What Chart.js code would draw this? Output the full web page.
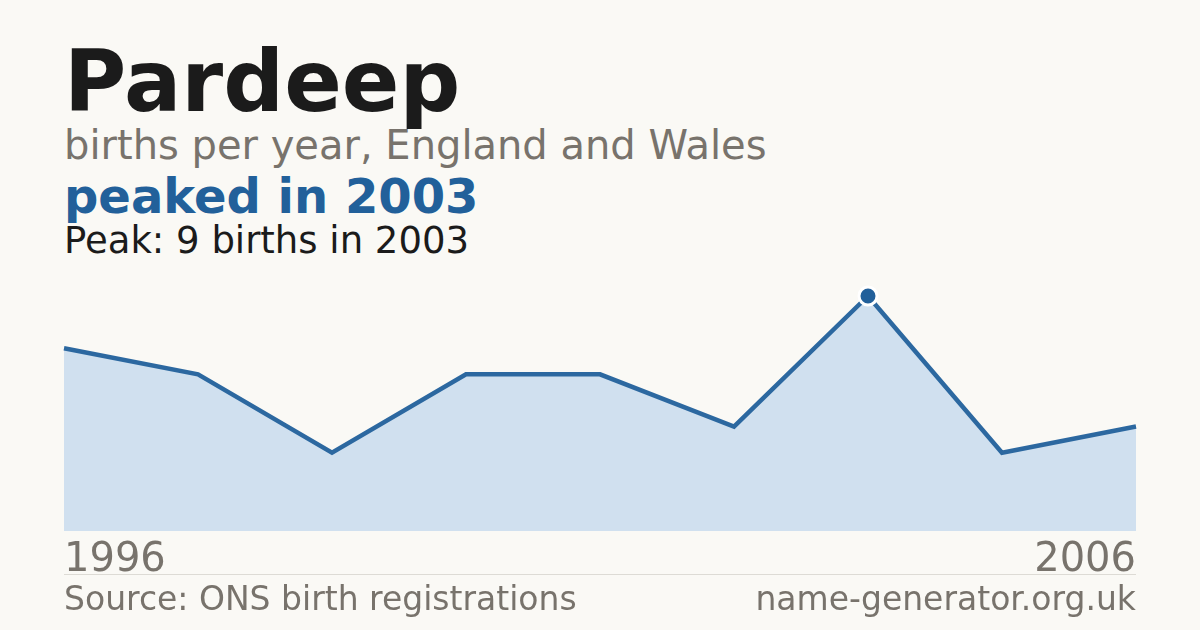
<!DOCTYPE html>
<html>
<head>
    <title>Pardeep births</title>
    <script src="https://cdn.jsdelivr.net/npm/chart.js"></script>
    <style>
        html, body {
            margin: 0;
            padding: 0;
            background: #faf9f5;
            font-family: "DejaVu Sans", sans-serif;
        }
        .page {
            position: relative;
            width: 1200px;
            height: 630px;
            overflow: hidden;
        }
        .txt {
            position: absolute;
            left: 64px;
            white-space: nowrap;
            line-height: 1;
        }
        #title { top: 39px; font-size: 85px; font-weight: bold; color: #1b1b1b; }
        #subtitle { top: 125px; font-size: 40px; color: #78736c; }
        #headline { top: 172px; font-size: 48px; font-weight: bold; color: #22609a; }
        #peak { top: 222px; font-size: 37px; color: #1b1b1b; }
        #rule { position: absolute; left: 64px; width: 1072px; top: 574px; height: 1px; background: #dddbd5; }
        #source { top: 582px; font-size: 33px; color: #78736c; }
        #site { top: 582px; left: auto; right: 64px; font-size: 33px; color: #78736c; }
        #chartBox { position: absolute; left: 40px; top: 266px; width: 1120px; height: 317px; }
    </style>
</head>
<body>
<div class="page">
    <div class="txt" id="title">Pardeep</div>
    <div class="txt" id="subtitle">births per year, England and Wales</div>
    <div class="txt" id="headline">peaked in 2003</div>
    <div class="txt" id="peak">Peak: 9 births in 2003</div>
    <div id="chartBox"><canvas id="chart"></canvas></div>
    <div id="rule"></div>
    <div class="txt" id="source">Source: ONS birth registrations</div>
    <div class="txt" id="site">name-generator.org.uk</div>
</div>

<script>
    // births per year (only first and last year labelled)
    const years = ['1996', '1997', '1998', '1999', '2000', '2001', '2003', '2005', '2006'];
    const births = [7, 6, 3, 6, 6, 4, 9, 3, 4];
    const shownTicks = ['1996', '2006'];

    const peakIdx = births.indexOf(Math.max(...births));

    new Chart(document.getElementById('chart'), {
        type: 'line',
        data: {
            labels: years,
            datasets: [{
                data: births,
                borderColor: '#2c68a0',
                borderWidth: 4.5,
                backgroundColor: '#d0e0ef',
                fill: 'origin',
                tension: 0,
                clip: false,
                pointRadius: births.map((v, i) => i === peakIdx ? 9 : 0),
                pointHoverRadius: 0,
                pointBackgroundColor: '#22609a',
                pointBorderColor: '#ffffff',
                pointBorderWidth: 3
            }]
        },
        options: {
            responsive: true,
            maintainAspectRatio: false,
            animation: false,
            layout: { padding: { top: 30, left: 24, right: 24, bottom: 0 } },
            plugins: {
                legend: { display: false },
                tooltip: { enabled: false }
            },
            scales: {
                x: {
                    offset: false,
                    grid: { display: false },
                    border: { display: false },
                    ticks: {
                        autoSkip: false,
                        maxRotation: 0,
                        align: 'inner',
                        padding: -2,
                        color: '#78736c',
                        font: { family: 'DejaVu Sans', size: 40 },
                        callback: function (val) {
                            const lab = this.getLabelForValue(val);
                            return shownTicks.includes(lab) ? lab : '';
                        }
                    }
                },
                y: {
                    display: false,
                    min: 0,
                    max: 9
                }
            }
        }
    });
</script>
</body>
</html>
